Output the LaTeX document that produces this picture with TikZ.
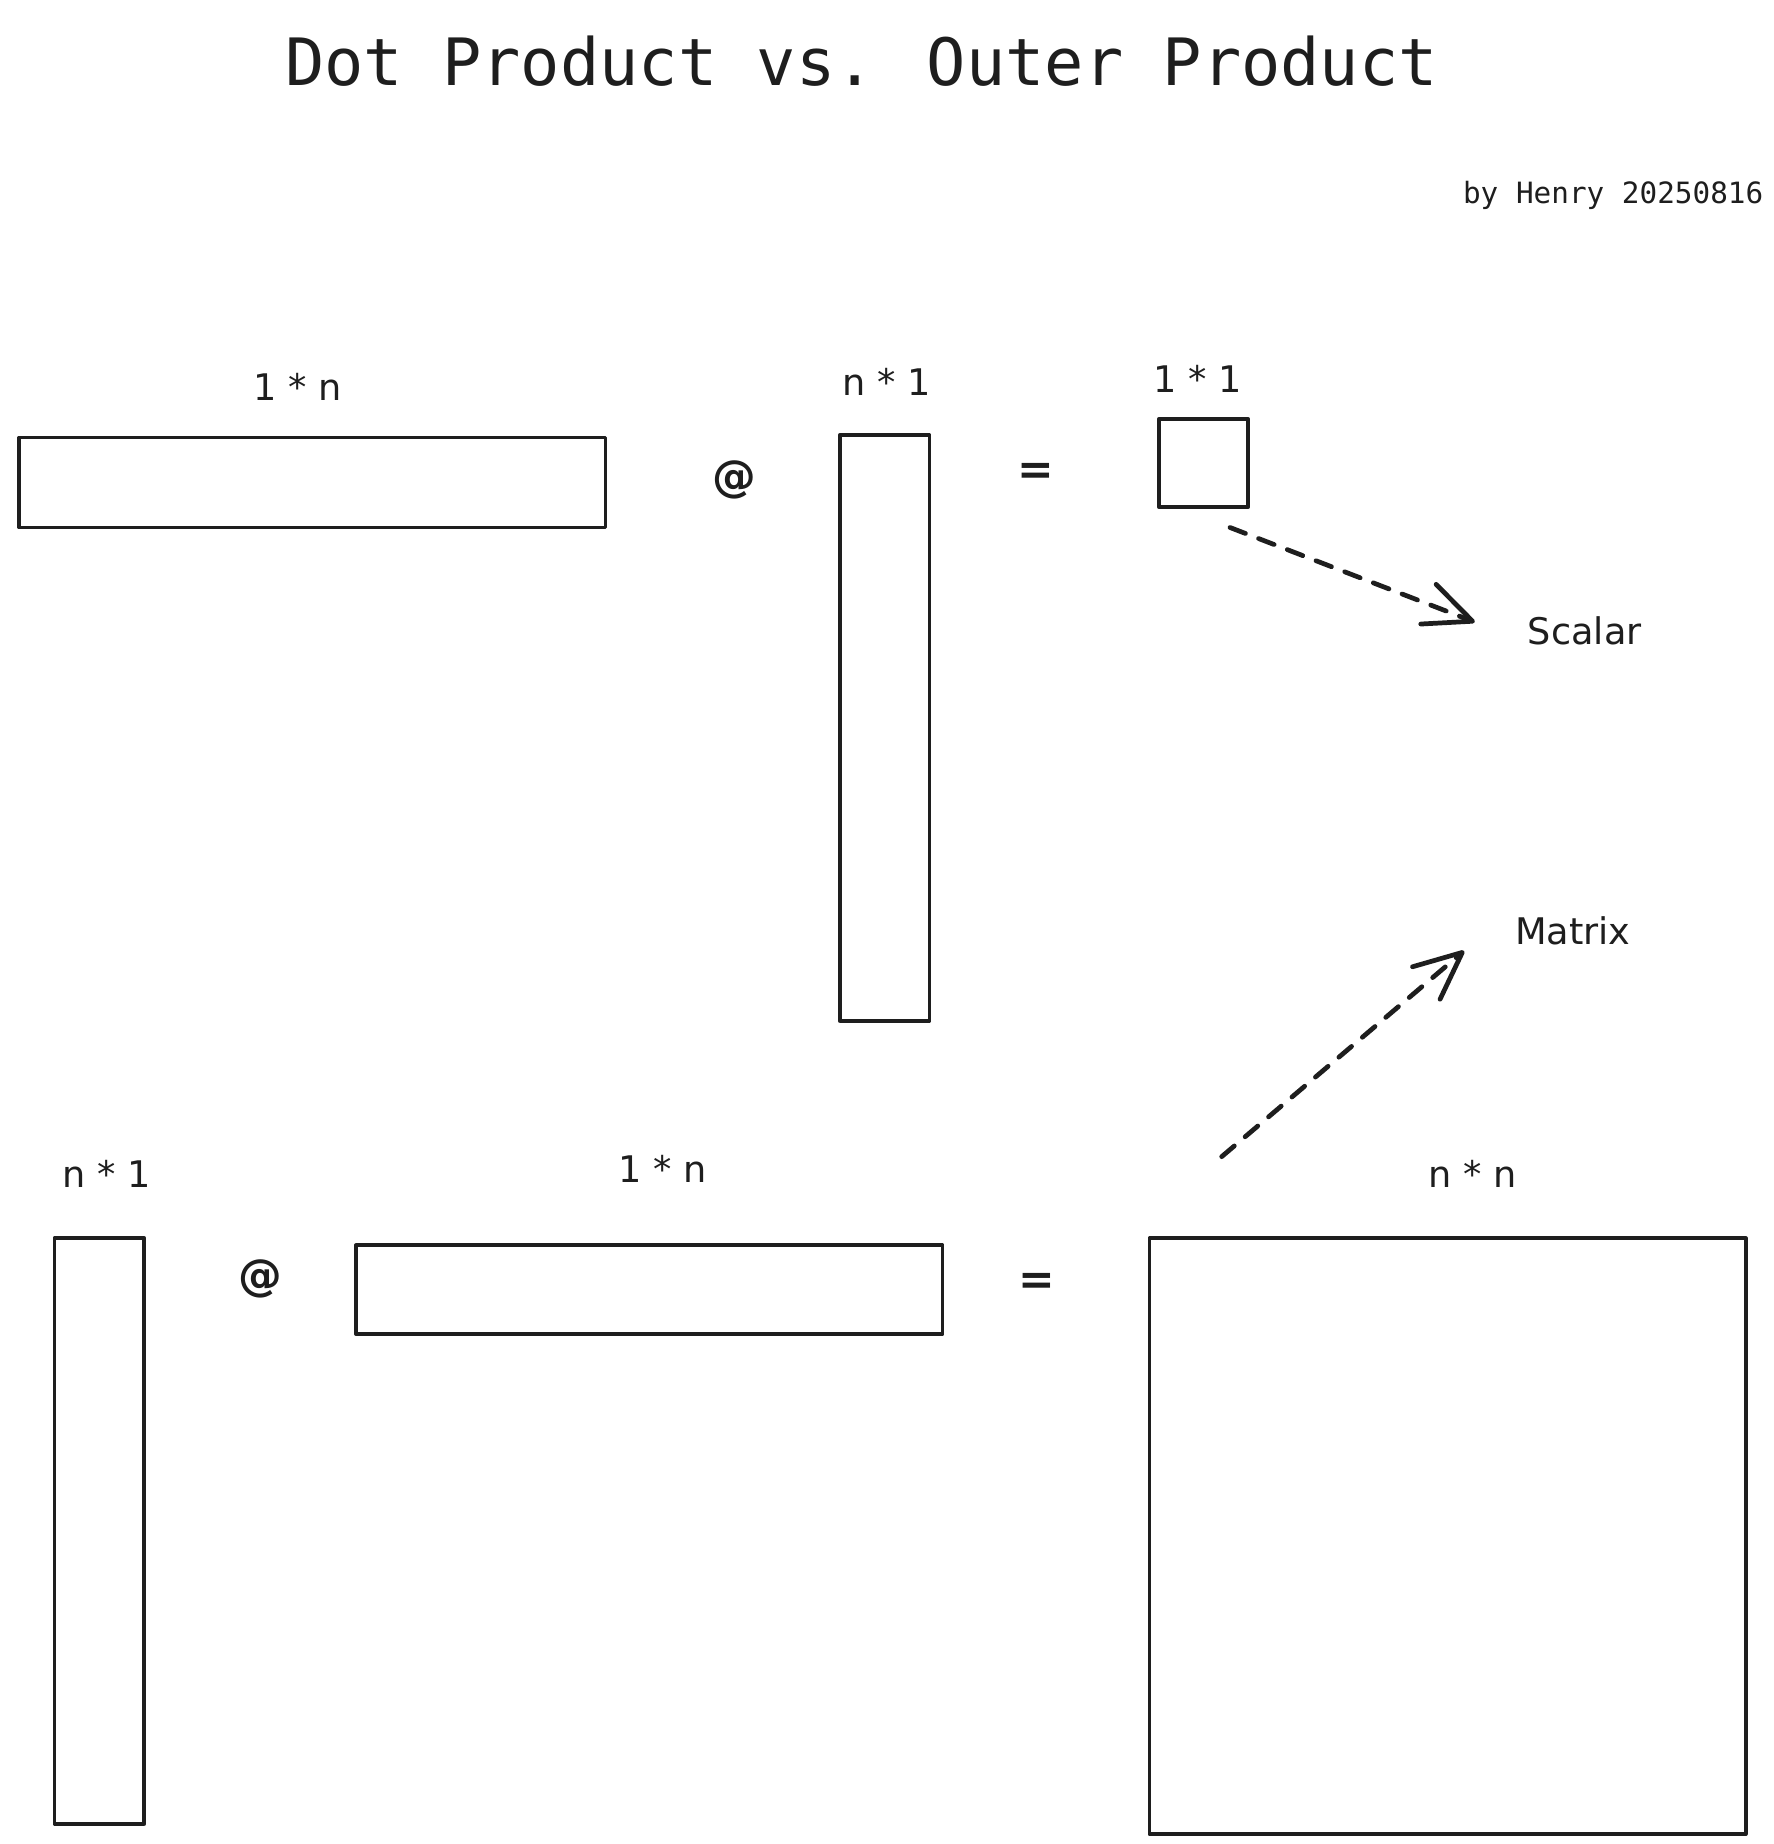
\documentclass[tikz,border=0pt]{standalone}
\usepackage{fontspec}
\setmainfont{DejaVu Sans}
\newfontfamily\titlefont{DejaVu Sans Mono}
\usetikzlibrary{arrows.meta}
\definecolor{ink}{HTML}{1E1E1E}
\begin{document}
\begin{tikzpicture}[x=0.5pt,y=-0.5pt,
  box/.style={draw=ink, line width=1.6pt, line join=round, inner sep=0pt, outer sep=0pt},
  lbl/.style={font=\fontsize{15.5}{18}\selectfont, text=ink, inner sep=0pt, anchor=base},
  opsym/.style={font=\fontsize{18.5}{20}\selectfont\bfseries, text=ink, inner sep=0pt},
  dasharrow/.style={draw=ink, line width=2pt, line cap=round,
    dash pattern=on 7pt off 6pt,
    -{Straight Barb[length=20pt,width=18pt,round]}}]
\useasboundingbox (0,0) rectangle (1500,1559.2);
\fill[white] (0,0) rectangle (1500,1559.2);

% title and byline
\node[anchor=base, inner sep=0pt, text=ink, font=\titlefont\fontsize{27.6}{32}\selectfont]
  (title) at (728.5,72) {Dot Product vs. Outer Product};
\node[anchor=base, inner sep=0pt, text=ink, font=\titlefont\fontsize{12.4}{15}\selectfont]
  (byline) at (1364,172) {by Henry 20250816};

% top row: dot product
\node[box, minimum width=248pt, minimum height=38pt] (r1) at (264,408) {};
\node[lbl] (l1) at (252,339) {1 * n};
\node[opsym] (at1) at (621,406) {@};
\node[box, minimum width=38pt, minimum height=247.5pt] (r2) at (748,615.5) {};
\node[lbl] (l2) at (750,334) {n * 1};
\node[opsym] (eq1) at (876,401) {=};
\node[box, minimum width=37.5pt, minimum height=37.5pt] (r3) at (1017.5,391.5) {};
\node[lbl] (l3) at (1013,332) {1 * 1};
\node[lbl] (scalar) at (1340,545) {Scalar};
\coordinate (sa) at (1040,446);
\coordinate (sb) at (1247,526);
\draw[dasharrow] (sa) -- (sb);

% bottom row: outer product
\node[box, minimum width=38pt, minimum height=247.5pt] (r4) at (84,1294.5) {};
\node[lbl] (l4) at (90,1004) {n * 1};
\node[opsym] (at2) at (220,1081) {@};
\node[box, minimum width=248pt, minimum height=37.5pt] (r5) at (549,1090.5) {};
\node[lbl] (l5) at (560,1000) {1 * n};
\node[opsym] (eq2) at (877,1086) {=};
\node[box, minimum width=252pt, minimum height=252pt] (r6) at (1224,1299) {};
\node[lbl] (l6) at (1245,1004) {n * n};
\node[lbl] (matrix) at (1330,799) {Matrix};
\coordinate (ma) at (1033,978);
\coordinate (mb) at (1238,804);
\draw[dasharrow] (ma) -- (mb);
\end{tikzpicture}
\end{document}
